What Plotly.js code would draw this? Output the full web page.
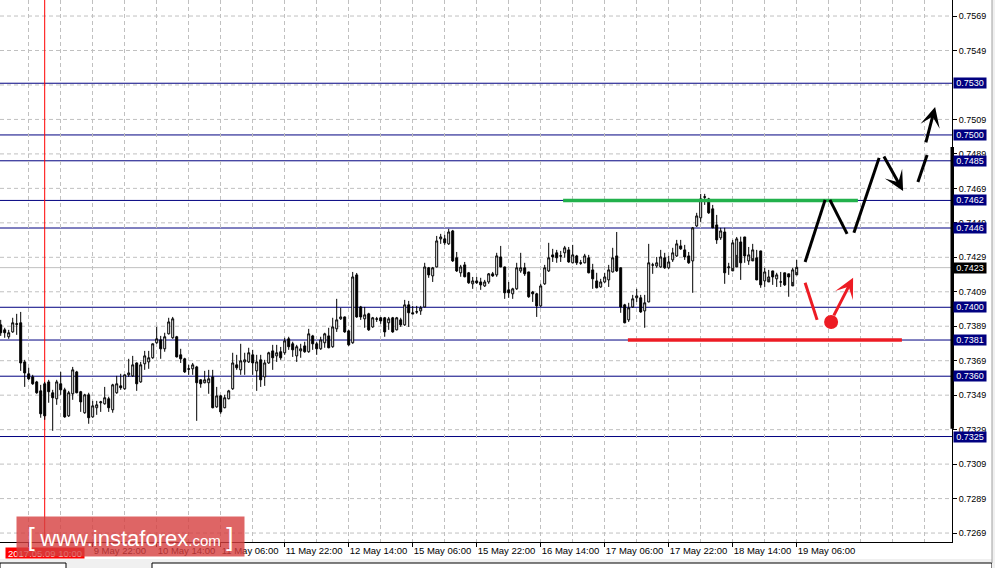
<!DOCTYPE html>
<html>
<head>
<meta charset="utf-8">
<script src="https://cdn.plot.ly/plotly-3.0.1.min.js"></script>
<style>
html,body{margin:0;padding:0;background:#ffffff;}
#chart{width:995px;height:568px;}
</style>
</head>
<body>
<div id="chart"></div>
<script>
// ---------- DATA (H1 candles) ----------
const openP = [0.73898,0.73869,0.73829,0.73857,0.73904,0.73910,0.73683,0.73614,0.73596,0.73567,
0.73515,0.73556,0.73567,0.73504,0.73469,0.73556,0.73521,0.73370,0.73498,0.73625,
0.73510,0.73388,0.73492,0.73364,0.73417,0.73446,0.73440,0.73469,0.73405,0.73504,
0.73544,0.73527,0.73608,0.73602,0.73677,0.73567,0.73672,0.73683,0.73707,0.73794,
0.73811,0.73759,0.73846,0.73823,0.73829,0.73724,0.73701,0.73643,0.73643,0.73654,
0.73579,0.73562,0.73562,0.73596,0.73422,0.73486,0.73417,0.73469,0.73527,0.73666,
0.73637,0.73683,0.73683,0.73724,0.73631,0.73695,0.73596,0.73677,0.73747,0.73718,
0.73742,0.73736,0.73817,0.73788,0.73718,0.73747,0.73776,0.73742,0.73834,0.73788,
0.73759,0.73794,0.73834,0.73771,0.73875,0.73933,0.73944,0.73863,0.73794,0.74188,
0.74002,0.73933,0.73962,0.73886,0.73933,0.73939,0.73939,0.73910,0.73939,0.73869,
0.73927,0.73898,0.74014,0.73968,0.73974,0.73979,0.74002,0.74229,0.74182,0.74234,
0.74397,0.74397,0.74368,0.74443,0.74287,0.74200,0.74246,0.74200,0.74136,0.74153,
0.74147,0.74124,0.74147,0.74194,0.74188,0.74292,0.74234,0.74101,0.74078,0.74107,
0.74211,0.74229,0.74205,0.74089,0.74078,0.74008,0.74136,0.74211,0.74304,0.74316,
0.74299,0.74316,0.74333,0.74258,0.74298,0.74258,0.74258,0.74287,0.74217,0.74153,
0.74118,0.74147,0.74159,0.74205,0.74298,0.74229,0.74014,0.73927,0.74002,0.74055,
0.74055,0.73979,0.74031,0.74246,0.74240,0.74234,0.74287,0.74229,0.74275,0.74298,
0.74356,0.74333,0.74298,0.74269,0.74472,0.74519,0.74641,0.74629,0.74571,0.74478,
0.74403,0.74437,0.74229,0.74211,0.74234,0.74379,0.74408,0.74269,0.74269,0.74287,
0.74327,0.74153,0.74147,0.74211,0.74165,0.74147,0.74200,0.74194,0.74124,0.74188,0.74231];
const highP = [0.73927,0.73881,0.73869,0.73939,0.73962,0.73973,0.73695,0.73649,0.73608,0.73573,
0.73550,0.73567,0.73579,0.73521,0.73579,0.73625,0.73533,0.73515,0.73654,0.73631,
0.73515,0.73498,0.73504,0.73457,0.73457,0.73457,0.73538,0.73481,0.73556,0.73602,
0.73614,0.73610,0.73701,0.73718,0.73680,0.73683,0.73747,0.73747,0.73790,0.73886,
0.73834,0.73852,0.73939,0.73944,0.73834,0.73759,0.73707,0.73666,0.73677,0.73660,
0.73582,0.73631,0.73637,0.73637,0.73538,0.73492,0.73492,0.73521,0.73736,0.73724,
0.73788,0.73736,0.73765,0.73753,0.73724,0.73724,0.73695,0.73742,0.73782,0.73782,
0.73770,0.73823,0.73829,0.73800,0.73782,0.73788,0.73800,0.73875,0.73840,0.73800,
0.73829,0.73852,0.73881,0.73939,0.74049,0.73997,0.73946,0.73869,0.74205,0.74199,
0.74008,0.74002,0.73968,0.73944,0.73944,0.73944,0.73944,0.73944,0.73944,0.73944,
0.73939,0.74043,0.74037,0.74008,0.74008,0.74008,0.74258,0.74234,0.74234,0.74414,
0.74426,0.74420,0.74455,0.74449,0.74321,0.74246,0.74263,0.74205,0.74176,0.74176,
0.74171,0.74159,0.74199,0.74205,0.74316,0.74356,0.74236,0.74147,0.74113,0.74258,
0.74316,0.74258,0.74206,0.74095,0.74084,0.74136,0.74246,0.74374,0.74339,0.74333,
0.74327,0.74356,0.74350,0.74362,0.74304,0.74275,0.74310,0.74304,0.74252,0.74200,
0.74165,0.74200,0.74246,0.74345,0.74437,0.74231,0.74020,0.74026,0.74072,0.74107,
0.74072,0.74072,0.74368,0.74258,0.74292,0.74333,0.74316,0.74298,0.74345,0.74391,
0.74391,0.74362,0.74321,0.74466,0.74548,0.74658,0.74658,0.74635,0.74594,0.74536,
0.74461,0.74461,0.74258,0.74391,0.74408,0.74410,0.74362,0.74350,0.74368,0.74333,
0.74211,0.74229,0.74217,0.74200,0.74200,0.74205,0.74200,0.74194,0.74229,0.74275];
const lowP = [0.73834,0.73823,0.73817,0.73852,0.73840,0.73631,0.73538,0.73579,0.73550,0.73498,
0.73359,0.73347,0.73446,0.73283,0.73434,0.73492,0.73359,0.73364,0.73463,0.73501,
0.73393,0.73382,0.73324,0.73359,0.73376,0.73393,0.73435,0.73393,0.73388,0.73498,
0.73521,0.73521,0.73596,0.73596,0.73515,0.73562,0.73637,0.73643,0.73701,0.73788,
0.73701,0.73742,0.73842,0.73817,0.73709,0.73677,0.73619,0.73608,0.73608,0.73341,
0.73533,0.73559,0.73498,0.73414,0.73417,0.73382,0.73414,0.73466,0.73521,0.73637,
0.73608,0.73608,0.73677,0.73608,0.73515,0.73538,0.73544,0.73672,0.73637,0.73683,
0.73695,0.73724,0.73753,0.73712,0.73683,0.73707,0.73736,0.73736,0.73753,0.73724,
0.73753,0.73765,0.73762,0.73765,0.73857,0.73927,0.73852,0.73776,0.73788,0.73939,
0.73927,0.73881,0.73863,0.73881,0.73915,0.73904,0.73829,0.73869,0.73852,0.73866,
0.73886,0.73892,0.73886,0.73959,0.73962,0.73956,0.74000,0.74171,0.74147,0.74232,
0.74368,0.74362,0.74362,0.74263,0.74205,0.74177,0.74174,0.74136,0.74107,0.74136,
0.74101,0.74118,0.74136,0.74177,0.74177,0.74232,0.74049,0.74055,0.74049,0.74101,
0.74200,0.74182,0.74055,0.74031,0.73944,0.74002,0.74130,0.74205,0.74263,0.74258,
0.74263,0.74287,0.74258,0.74255,0.74246,0.74246,0.74255,0.74197,0.74107,0.74110,
0.74113,0.74142,0.74118,0.74202,0.74205,0.73968,0.73907,0.73915,0.73997,0.74031,
0.73968,0.73881,0.74029,0.74194,0.74229,0.74229,0.74223,0.74223,0.74263,0.74292,
0.74333,0.74275,0.74252,0.74084,0.74466,0.74495,0.74594,0.74542,0.74459,0.74368,
0.74391,0.74136,0.74188,0.74229,0.74304,0.74159,0.74258,0.74246,0.74285,0.74157,
0.74113,0.74118,0.74165,0.74130,0.74118,0.74118,0.74124,0.74061,0.74147,0.74205];
const closeP = [0.73852,0.73852,0.73852,0.73910,0.73902,0.73677,0.73619,0.73585,0.73556,0.73504,
0.73382,0.73370,0.73510,0.73475,0.73567,0.73521,0.73364,0.73504,0.73637,0.73504,
0.73451,0.73492,0.73359,0.73428,0.73434,0.73451,0.73475,0.73417,0.73550,0.73556,
0.73533,0.73608,0.73619,0.73666,0.73556,0.73666,0.73718,0.73707,0.73788,0.73817,
0.73759,0.73829,0.73915,0.73933,0.73712,0.73701,0.73625,0.73641,0.73666,0.73562,
0.73556,0.73579,0.73585,0.73417,0.73486,0.73393,0.73475,0.73515,0.73677,0.73649,
0.73689,0.73695,0.73736,0.73677,0.73683,0.73579,0.73677,0.73736,0.73707,0.73736,
0.73707,0.73805,0.73771,0.73753,0.73771,0.73759,0.73742,0.73846,0.73788,0.73759,
0.73811,0.73846,0.73765,0.73886,0.73927,0.73944,0.73857,0.73782,0.74176,0.73944,
0.73944,0.73956,0.73869,0.73939,0.73931,0.73921,0.73857,0.73933,0.73857,0.73939,
0.73898,0.74014,0.73968,0.73962,0.73973,0.73997,0.74234,0.74188,0.74229,0.74385,
0.74408,0.74374,0.74437,0.74269,0.74211,0.74234,0.74177,0.74142,0.74153,0.74142,
0.74130,0.74147,0.74194,0.74182,0.74298,0.74234,0.74084,0.74084,0.74107,0.74229,
0.74229,0.74194,0.74061,0.74078,0.74008,0.74124,0.74229,0.74287,0.74292,0.74287,
0.74297,0.74345,0.74263,0.74304,0.74258,0.74256,0.74298,0.74200,0.74165,0.74113,
0.74147,0.74176,0.74217,0.74287,0.74211,0.74002,0.73910,0.73997,0.74049,0.74066,
0.73973,0.74026,0.74258,0.74245,0.74258,0.74292,0.74229,0.74263,0.74316,0.74368,
0.74339,0.74292,0.74258,0.74461,0.74530,0.74629,0.74639,0.74548,0.74461,0.74391,
0.74443,0.74200,0.74234,0.74374,0.74397,0.74258,0.74298,0.74304,0.74333,0.74159,
0.74130,0.74205,0.74176,0.74176,0.74188,0.74147,0.74130,0.74176,0.74217,0.74232];
const tickIdx = [7,23,39,55,71,87,103,119,135,151,167,183,199];
const tickText = ['9 May 06:00','9 May 22:00','10 May 14:00','11 May 06:00','11 May 22:00','12 May 14:00','15 May 06:00','15 May 22:00','16 May 14:00','17 May 06:00','17 May 22:00','18 May 14:00','19 May 06:00'];
const priceTicks = [0.7269,0.7289,0.7309,0.7329,0.7349,0.7369,0.7389,0.7409,0.7429,0.7449,0.7469,0.7489,0.7509,0.7549,0.7569];
const gridPrices = [0.7269,0.7289,0.7309,0.7329,0.7349,0.7369,0.7389,0.7409,0.7429,0.7449,0.7469,0.7489,0.7509,0.7529,0.7549,0.7569];
const levels = [0.7530,0.7500,0.7485,0.7462,0.7446,0.7400,0.7381,0.7360,0.7325];
const currentPrice = 0.7423;
const resistance = {from:140.6, to:214.3, price:0.7462};
const support = {from:156.8, to:225.3, price:0.7381};
// scenario path (bar index, price)
const upPathX = [201.1,206.1,207.3,211.6,213.3,219.6];
const upPathY = [0.74263,0.74623,0.74623,0.74426,0.74432,0.74867];
const upArrow1 = {x0:220.6,y0:0.74884,x1:225.6,y1:0.74675};
const upDash = {x0:229.3,y0:0.74727,x1:231.6,y1:0.74884};
const upArrow2 = {x0:231.2,y0:0.74948,x1:233.6,y1:0.75162};
const downLine = {x0:201.1,y0:0.74142,x1:204.1,y1:0.73927};
const downDot = {x:207.6,y:0.73915};
const downArrow = {x0:208.1,y0:0.73944,x1:213.1,y1:0.74171};
const crossIdx = 11;
const crossLabel = '2017.05.09 10:00';

// ---------- BUILD ----------
const xs = openP.map((_, i) => i);
const W = 952, H = 542;
const FONT = 'Liberation Sans, Arial, sans-serif';

const trace = {
  type: 'candlestick',
  x: xs, open: openP, high: highP, low: lowP, close: closeP,
  increasing: {line: {color: '#000000', width: 1}, fillcolor: '#ffffff'},
  decreasing: {line: {color: '#000000', width: 1}, fillcolor: '#000000'},
  whiskerwidth: 0,
  hoverinfo: 'skip',
  showlegend: false
};

const shapes = [];
// dashed horizontal grid
gridPrices.forEach(v => shapes.push({type:'line', xref:'paper', x0:0, x1:1, yref:'y', y0:v, y1:v, line:{color:'#c0c0c0', width:1, dash:'4px,3px'}, layer:'below'}));
// level lines
levels.forEach(v => shapes.push({type:'line', xref:'paper', x0:0, x1:1, yref:'y', y0:v, y1:v, line:{color:'#000080', width:1}, layer:'below'}));
// current price line
shapes.push({type:'line', xref:'paper', x0:0, x1:1, yref:'y', y0:currentPrice, y1:currentPrice, line:{color:'#c0c0c0', width:1}, layer:'below'});
// crosshair vertical
shapes.push({type:'line', xref:'x', x0:crossIdx, x1:crossIdx, yref:'paper', y0:0, y1:1, line:{color:'#ff0000', width:1}, layer:'below'});
// green & red horizontal levels
shapes.push({type:'line', xref:'x', x0:resistance.from, x1:resistance.to, yref:'y', y0:resistance.price, y1:resistance.price, line:{color:'rgb(34,177,76)', width:3.5}});
shapes.push({type:'line', xref:'x', x0:support.from, x1:support.to, yref:'y', y0:support.price, y1:support.price, line:{color:'rgb(237,28,36)', width:3.5}});
// up scenario segments
for (let i = 0; i < upPathX.length; i += 2) {
  shapes.push({type:'line', xref:'x', yref:'y', x0:upPathX[i], y0:upPathY[i], x1:upPathX[i+1], y1:upPathY[i+1], line:{color:'#000000', width:3}});
}
shapes.push({type:'line', xref:'x', yref:'y', x0:upDash.x0, y0:upDash.y0, x1:upDash.x1, y1:upDash.y1, line:{color:'#000000', width:3}});
shapes.push({type:'line', xref:'x', yref:'y', x0:downLine.x0, y0:downLine.y0, x1:downLine.x1, y1:downLine.y1, line:{color:'rgb(237,28,36)', width:3}});
shapes.push({type:'circle', xref:'x', yref:'y', xsizemode:'pixel', ysizemode:'pixel', xanchor:downDot.x, yanchor:downDot.y, x0:-7, x1:7, y0:-7, y1:7, fillcolor:'rgb(237,28,36)', line:{width:0}});
// right thick scale bar
shapes.push({type:'rect', xref:'paper', x0:950.5/W, x1:954/W, yref:'y', y0:0.73295, y1:0.74930, fillcolor:'#000000', line:{width:0}});
// window chrome (bottom tabs, right border)
shapes.push({type:'rect', xref:'paper', yref:'paper', x0:0, x1:995/W, y0:-(559-H)/H, y1:-(569-H)/H, fillcolor:'#f0f0f0', line:{width:0}, layer:'below'});
shapes.push({type:'rect', xref:'paper', yref:'paper', x0:0, x1:66/W, y0:-(563-H)/H, y1:-(569-H)/H, fillcolor:'#ffffff', line:{color:'#000000', width:1}, layer:'below'});
shapes.push({type:'rect', xref:'paper', yref:'paper', x0:152/W, x1:992/W, y0:-(563-H)/H, y1:-(569-H)/H, fillcolor:'#ffffff', line:{color:'#000000', width:1}, layer:'below'});
shapes.push({type:'rect', xref:'paper', yref:'paper', x0:992/W, x1:996/W, y0:1.01, y1:-(569-H)/H, fillcolor:'#f0f0f0', line:{width:0}, layer:'below'});
shapes.push({type:'line', xref:'paper', yref:'paper', x0:992/W, x1:992/W, y0:1.01, y1:-(563-H)/H, line:{color:'#a0a0a0', width:1}, layer:'below'});

const annotations = [];
levels.forEach(v => annotations.push({xref:'paper', x:1, xanchor:'left', xshift:1, yref:'y', y:v, yanchor:'middle',
  text:v.toFixed(4), showarrow:false, bgcolor:'#000080', font:{family:FONT, size:9, color:'#ffffff'},
  width:32, height:10, borderpad:0}));
annotations.push({xref:'paper', x:1, xanchor:'left', xshift:1, yref:'y', y:currentPrice, yanchor:'middle',
  text:currentPrice.toFixed(4), showarrow:false, bgcolor:'#000000', font:{family:FONT, size:9, color:'#ffffff'},
  width:32, height:10, borderpad:0});
// arrows
[[upArrow1,'#000000'],[upArrow2,'#000000'],[downArrow,'rgb(237,28,36)']].forEach(([a,c]) => annotations.push({
  xref:'x', yref:'y', axref:'x', ayref:'y', x:a.x1, y:a.y1, ax:a.x0, ay:a.y0, text:'', showarrow:true,
  arrowhead:3, arrowsize:1.1, arrowwidth:3, arrowcolor:c, standoff:0, startstandoff:0}));
// crosshair time label
annotations.push({xref:'x', x:crossIdx, xanchor:'center', yref:'paper', y:0, yanchor:'top', yshift:-5,
  text:crossLabel, showarrow:false, bgcolor:'#ff0000', font:{family:FONT, size:9.5, color:'#ffffff'},
  width:78, height:10, borderpad:0});
// watermark
annotations.push({xref:'paper', yref:'paper', x:130.5/W, y:-(536.5-H)/H, xanchor:'center', yanchor:'middle',
  text:'<span style="font-size:26px;font-weight:300">[</span> <span style="font-size:22px">www.instaforex</span><span style="font-size:15px">.com</span> <span style="font-size:26px;font-weight:300">]</span>',
  showarrow:false, bgcolor:'rgba(214,62,62,0.8)', font:{family:FONT, size:20, color:'#ffffff'},
  width:227, height:39, borderpad:0});

const layout = {
  width: 995, height: 568,
  margin: {l:0, r:43, t:0, b:26, pad:0},
  paper_bgcolor: '#ffffff', plot_bgcolor: '#ffffff',
  showlegend: false,
  font: {family:FONT, size:9.5, color:'#000000'},
  xaxis: {
    range: [-0.175, W/4 - 0.175], type:'linear', autorange:false, fixedrange:true,
    rangeslider: {visible:false},
    tickmode:'array', tickvals: tickIdx, ticktext: tickText, tickangle:0,
    ticks:'outside', ticklen:4, tickcolor:'#000000', tickwidth:1,
    ticklabelposition:'outside right',
    showgrid:true, gridcolor:'#c0c0c0', griddash:'4px,3px', gridwidth:1,
    minor: {tickmode:'linear', tick0:7, dtick:8, showgrid:true, gridcolor:'#c0c0c0', griddash:'4px,3px', ticks:''},
    showline:true, linecolor:'#000000', linewidth:1, zeroline:false, automargin:false,
    tickfont:{size:9.5, color:'#000000'}
  },
  yaxis: {
    side:'right', range:[0.72638, 0.75783], autorange:false, fixedrange:true,
    tickmode:'array', tickvals: priceTicks, ticktext: priceTicks.map(v => v.toFixed(4)),
    ticks:'outside', ticklen:4, tickcolor:'#000000',
    showgrid:false,
    showline:true, linecolor:'#000000', linewidth:1, zeroline:false, automargin:false,
    tickfont:{size:9, color:'#000000'}
  },
  shapes: shapes,
  annotations: annotations
};

Plotly.newPlot('chart', [trace], layout, {staticPlot:true, displayModeBar:false});
</script>
</body>
</html>
